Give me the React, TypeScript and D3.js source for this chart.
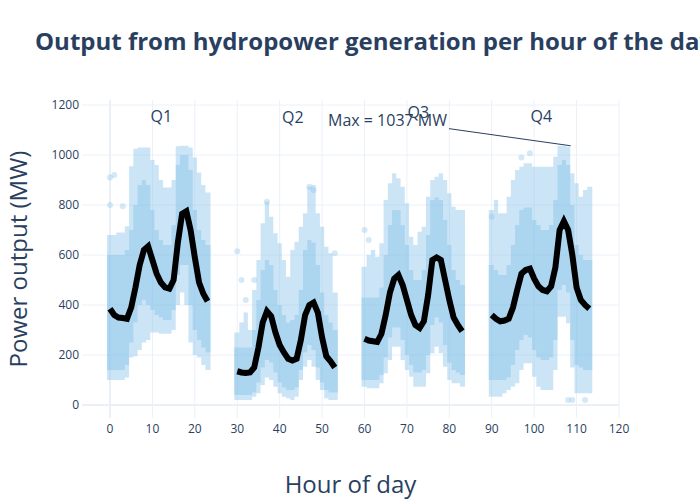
import React from "react";
import * as d3 from "d3";

// ---- Data ----
const quarterNames = ["Q1", "Q2", "Q3", "Q4"];
const quarterOffsets = [0, 30, 60, 90];
const hourTicks = [0, 10, 20, 30, 40, 50, 60, 70, 80, 90, 100, 110, 120];
const powerTicks = [0, 200, 400, 600, 800, 1000, 1200];

// mean output per hour (black line)
const meanQ1 = [385, 360, 350, 348, 345, 390, 470, 560, 620, 635, 580, 525, 490, 470, 465, 500, 650, 765, 775, 700, 590, 490, 445, 415];
const meanQ2 = [135, 130, 128, 130, 150, 230, 330, 375, 355, 290, 240, 210, 185, 178, 185, 260, 360, 400, 410, 370, 270, 195, 175, 150];
const meanQ3 = [265, 258, 255, 252, 285, 360, 450, 505, 520, 480, 420, 360, 320, 308, 335, 440, 580, 590, 580, 500, 420, 350, 320, 295];
const meanQ4 = [360, 345, 335, 338, 345, 390, 460, 525, 540, 545, 505, 475, 460, 455, 475, 550, 700, 735, 700, 600, 470, 420, 400, 385];

// extent of the scatter cloud per hour (lowest / highest observation)
const lowQ1 = [100, 100, 100, 100, 110, 190, 195, 220, 250, 260, 290, 290, 285, 285, 285, 300, 400, 450, 400, 250, 200, 190, 160, 140];
const highQ1 = [680, 680, 690, 690, 715, 955, 1025, 1030, 1030, 1030, 980, 960, 900, 870, 870, 900, 1035, 1037, 1037, 1030, 990, 930, 880, 850];
const lowQ2 = [20, 20, 20, 20, 33, 47, 80, 110, 100, 73, 47, 33, 27, 20, 33, 100, 153, 180, 153, 100, 60, 27, 20, 20];
const highQ2 = [290, 330, 370, 300, 460, 580, 727, 813, 753, 687, 647, 580, 513, 620, 653, 713, 767, 873, 880, 767, 713, 633, 607, 450];
const lowQ3 = [73, 67, 67, 67, 87, 127, 180, 233, 233, 180, 140, 113, 73, 73, 73, 127, 207, 233, 207, 153, 100, 87, 87, 73];
const highQ3 = [553, 600, 620, 593, 647, 820, 887, 927, 907, 873, 807, 673, 640, 693, 713, 833, 900, 913, 927, 900, 847, 793, 780, 780];
const lowQ4 = [33, 33, 33, 47, 60, 73, 87, 140, 167, 167, 113, 73, 60, 60, 60, 140, 353, 353, 327, 150, 47, 47, 47, 47];
const highQ4 = [780, 820, 767, 767, 833, 900, 940, 953, 967, 967, 953, 953, 953, 953, 953, 993, 1037, 1037, 1033, 927, 887, 833, 860, 873];

// dense core of the cloud per hour
const coreLoQ1 = [140, 140, 140, 140, 160, 250, 330, 400, 420, 400, 380, 360, 350, 340, 340, 380, 520, 560, 560, 400, 300, 260, 230, 210];
const coreHiQ1 = [600, 600, 600, 600, 620, 700, 800, 880, 900, 880, 780, 700, 660, 640, 640, 720, 960, 1000, 1000, 940, 780, 700, 660, 640];
const coreLoQ2 = [40, 40, 40, 40, 50, 90, 150, 180, 170, 130, 90, 70, 60, 60, 70, 140, 210, 240, 220, 150, 90, 60, 50, 50];
const coreHiQ2 = [230, 230, 230, 230, 300, 420, 540, 580, 560, 460, 400, 360, 330, 340, 360, 460, 620, 660, 650, 560, 450, 360, 330, 300];
const coreLoQ3 = [100, 100, 100, 100, 120, 190, 270, 310, 310, 260, 200, 160, 130, 130, 140, 200, 320, 350, 330, 240, 170, 140, 130, 120];
const coreHiQ3 = [430, 430, 430, 430, 470, 600, 720, 780, 780, 720, 640, 540, 500, 500, 540, 680, 820, 830, 820, 740, 640, 540, 500, 480];
const coreLoQ4 = [100, 100, 100, 100, 110, 160, 220, 260, 280, 270, 220, 190, 180, 180, 190, 260, 460, 480, 450, 260, 160, 150, 140, 140];
const coreHiQ4 = [560, 540, 520, 520, 560, 640, 720, 780, 790, 790, 740, 720, 700, 700, 720, 820, 960, 980, 960, 800, 640, 600, 580, 580];

// isolated observations outside the dense cloud [hour, MW]
const outlierHours = [0, 1, 3, 0, 30, 31, 32, 34, 37, 47, 48, 53, 60, 61, 90, 99, 97, 108, 109, 112];
const outlierValues = [910, 920, 795, 800, 615, 500, 420, 500, 813, 873, 860, 607, 700, 660, 753, 1007, 990, 20, 20, 20];

const maxLabel = "Max = 1037 MW";
const maxHour = 108.6;
const maxValue = 1037;

const means = [meanQ1, meanQ2, meanQ3, meanQ4];
const lows = [lowQ1, lowQ2, lowQ3, lowQ4];
const highs = [highQ1, highQ2, highQ3, highQ4];
const coreLows = [coreLoQ1, coreLoQ2, coreLoQ3, coreLoQ4];
const coreHighs = [coreHiQ1, coreHiQ2, coreHiQ3, coreHiQ4];

// ---- Layout ----
const W = 700;
const H = 500;
const left = 82;
const right = 619;
const top = 100;
const bottom = 418;
const FONT = "'Open Sans', 'Noto Sans', sans-serif";
const TEXT = "#2a3f5f";
const GRID = "#ebf0f8";
const DOT = "#85c1e9";

const x = d3.scaleLinear().domain([-6.6, 120]).range([left, right]);
const y = d3.scaleLinear().domain([-52, 1220]).range([bottom, top]);

function bandPath(offset: number, lo: number[], hi: number[]): string {
  const p = d3.path();
  const n = lo.length;
  const pad = 0.7;
  for (let i = 0; i < n; i++) {
    const h = offset + i;
    const x0 = x(i === 0 ? h - pad : h - 0.5);
    const x1 = x(i === n - 1 ? h + pad : h + 0.5);
    if (i === 0) p.moveTo(x0, y(hi[i]));
    else p.lineTo(x0, y(hi[i]));
    p.lineTo(x1, y(hi[i]));
  }
  for (let i = n - 1; i >= 0; i--) {
    const h = offset + i;
    const x0 = x(i === 0 ? h - pad : h - 0.5);
    const x1 = x(i === n - 1 ? h + pad : h + 0.5);
    p.lineTo(x1, y(lo[i]));
    p.lineTo(x0, y(lo[i]));
  }
  p.closePath();
  return p.toString();
}

export default function App() {
  const line = d3
    .line<number>()
    .x((_, i) => x(i))
    .y((d) => y(d));

  // annotation geometry
  const annCx = 387.5;
  const annCy = 120;
  const tipX = x(maxHour);
  const tipY = y(maxValue);
  const boxRight = 449;
  const slope = (tipY - annCy) / (tipX - annCx);
  const startY = annCy + slope * (boxRight - annCx);

  const quarterLabelPos = [
    [12.1, 1158],
    [43.1, 1154],
    [72.7, 1174],
    [101.7, 1158],
  ];

  return (
    <svg
      width={W}
      height={H}
      style={{ position: "absolute", left: 0, top: 0, background: "#fff" }}
      fontFamily={FONT}
    >
      <rect x={0} y={0} width={W} height={H} fill="#fff" />
      {/* grid */}
      {hourTicks.map((t) => (
        <line
          key={"gx" + t}
          x1={x(t)}
          x2={x(t)}
          y1={top}
          y2={bottom}
          stroke={GRID}
          strokeWidth={t === 0 ? 2 : 1}
        />
      ))}
      {powerTicks.map((t) => (
        <line
          key={"gy" + t}
          x1={left}
          x2={right}
          y1={y(t)}
          y2={y(t)}
          stroke={GRID}
          strokeWidth={t === 0 ? 2 : 1}
        />
      ))}

      {/* scatter cloud */}
      {quarterOffsets.map((off, q) => (
        <g key={"cloud" + q}>
          <path d={bandPath(off, lows[q], highs[q])} fill={DOT} fillOpacity={0.42} />
          <path d={bandPath(off, coreLows[q], coreHighs[q])} fill={DOT} fillOpacity={0.45} />
        </g>
      ))}
      {outlierHours.map((h, i) => (
        <circle key={"o" + i} cx={x(h)} cy={y(outlierValues[i])} r={3} fill={DOT} fillOpacity={0.35} />
      ))}

      {/* mean lines */}
      {quarterOffsets.map((off, q) => (
        <path
          key={"mean" + q}
          d={line.x((_, i) => x(off + i))(means[q]) || ""}
          fill="none"
          stroke="#000"
          strokeWidth={6}
        />
      ))}

      {/* tick labels */}
      {hourTicks.map((t) => (
        <text key={"tx" + t} x={x(t)} y={432.7} textAnchor="middle" fontSize={12} fill={TEXT}>
          {t}
        </text>
      ))}
      {powerTicks.map((t) => (
        <text key={"ty" + t} x={79} y={y(t) + 4.2} textAnchor="end" fontSize={12} fill={TEXT}>
          {t}
        </text>
      ))}

      {/* quarter labels */}
      {quarterNames.map((name, i) => (
        <text
          key={name}
          x={x(quarterLabelPos[i][0])}
          y={y(quarterLabelPos[i][1])}
          textAnchor="middle"
          dominantBaseline="central"
          fontSize={16}
          fill={TEXT}
        >
          {name}
        </text>
      ))}

      {/* max annotation */}
      <line x1={boxRight} y1={startY} x2={tipX} y2={tipY} stroke={TEXT} strokeWidth={1} />
      <text x={annCx} y={annCy} textAnchor="middle" dominantBaseline="central" fontSize={16} fill={TEXT}>
        {maxLabel}
      </text>

      {/* axis titles */}
      <text x={350.5} y={493.3} textAnchor="middle" fontSize={24} fill={TEXT}>
        Hour of day
      </text>
      <text
        transform={`translate(27, ${(top + bottom) / 2}) rotate(-90)`}
        textAnchor="middle"
        fontSize={24}
        fill={TEXT}
      >
        Power output (MW)
      </text>

      {/* title */}
      <text x={35} y={50} fontSize={24} fontWeight="bold" fill={TEXT}>
        Output from hydropower generation per hour of the day
      </text>
    </svg>
  );
}
